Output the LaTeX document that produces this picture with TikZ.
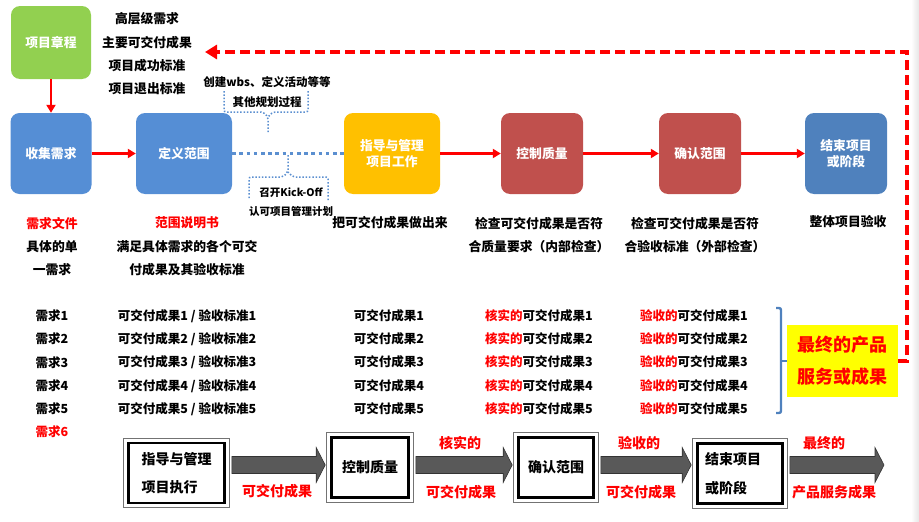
\documentclass[tikz,border=0pt]{standalone}
\usepackage{fontspec}
\setmainfont{Noto Sans CJK SC}
\usetikzlibrary{arrows.meta,calc}
\definecolor{chartergreen}{HTML}{92D050}
\definecolor{stepblue}{HTML}{558ED5}
\definecolor{closeblue}{HTML}{4F81BD}
\definecolor{workyellow}{HTML}{FFC000}
\definecolor{checkred}{HTML}{C0504D}
\definecolor{flowgray}{HTML}{595959}
\definecolor{noteblue}{HTML}{5B8FD0}
\definecolor{hiyellow}{HTML}{FFFF00}
\newcommand\fsb[2]{\fontsize{#1}{#2}\selectfont\bfseries}

\begin{document}
\begin{tikzpicture}[x=1pt,y=-1pt,
  procbox/.style={rounded corners=9pt, minimum width=#1, minimum height=81pt,
    inner sep=2pt, text=white, align=center, font=\fsb{12.8}{15.5}},
  txt/.style={align=center, inner sep=0pt, font=\fsb{12.8}{23.3}},
  redflow/.style={draw=red, line width=2.5pt, -{Triangle[length=8pt,width=9pt]}},
  noteline/.style={draw=noteblue, line width=1.5pt, dash pattern=on 1.5pt off 1.8pt, rounded corners=2pt},
  mainline/.style={draw=noteblue, line width=3.2pt, dash pattern=on 3.6pt off 3.6pt},
  returnline/.style={draw=red, line width=3.5pt, dash pattern=on 10pt off 5pt,
    -{Triangle[length=12pt,width=14pt]}},
  flowbox/.style={draw=black, line width=2.6pt, fill=white, inner sep=0pt,
    minimum height=60pt, align=left, font=\fsb{14}{28.5}},
  flowframe/.style={draw=black!55, line width=1pt},
  blockarrow/.style={fill=flowgray, draw=black!80, line width=0.6pt,
    to path={let \p1=(\tikztostart), \p2=(\tikztotarget) in
      (\x1+6pt,\y1-8.5pt) -- (\x2-14pt,\y1-8.5pt) -- (\x2-14pt,\y1-17.5pt) --
      (\x2-5pt,\y1) -- (\x2-14pt,\y1+17.5pt) -- (\x2-14pt,\y1+8.5pt) --
      (\x1+6pt,\y1+8.5pt) -- cycle}},
  flowlabel/.style={inner sep=0pt, text=red, font=\fsb{14}{16}},
  bracket/.style={draw=closeblue, line width=2.4pt, rounded corners=2pt}
]
\useasboundingbox (0,0) rectangle (919,522);
\shade[left color=white, right color=black!10] (911,0) rectangle (919,522);

% ---- process row ----
\node[procbox=80pt, fill=chartergreen, minimum height=73pt] (charter) at (51,42.5) {项目章程};
\node[procbox=81pt, fill=stepblue] (collect) at (51,153.5) {收集需求};
\node[procbox=96pt, fill=stepblue] (define) at (184,153.5) {定义范围};
\node[procbox=96pt, fill=workyellow] (direct) at (392,153.5) {指导与管理\\项目工作};
\node[procbox=82pt, fill=checkred] (control) at (542,153.5) {控制质量};
\node[procbox=82pt, fill=checkred] (validate) at (700,153.5) {确认范围};
\node[procbox=82pt, fill=closeblue] (close) at (846,153.5) {结束项目\\或阶段};

\draw[redflow] (charter.south) -- (collect.north);
\draw[redflow] (collect.east) -- (define.west);
\draw[mainline] (define.east) -- (direct.west);
\draw[redflow] (direct.east) -- (control.west);
\draw[redflow] (control.east) -- (validate.west);
\draw[redflow] (validate.east) -- (close.west);

% ---- charter outputs ----
\node[txt] (charterout) at (147,54) {高层级需求\\主要可交付成果\\项目成功标准\\项目退出标准};

% ---- planning notes on the dotted link ----
\node[txt, font=\fsb{11.5}{20}] (plannote) at (267,92) {创建wbs、定义活动等等\\其他规划过程};
\draw[noteline] (224,91) -- (224,112) -- (263,112) -- (268,117) -- (268,133);
\draw[noteline] (308,91) -- (308,112) -- (273,112) -- (268,117);
\node[txt, font=\fsb{10.5}{19}] (kicknote) at (291,202.5) {召开Kick-Off\\认可项目管理计划};
\draw[noteline] (249,198) -- (249,177) -- (283,177) -- (288,172) -- (288,154);
\draw[noteline] (328,200) -- (328,177) -- (293,177) -- (288,172);

% ---- step outputs ----
\node[txt] (reqdoc) at (52,246.5) {\textcolor{red}{需求文件}\\具体的单\\一需求};
\node[txt] (scopedoc) at (187,246.5) {\textcolor{red}{范围说明书}\\满足具体需求的各个可交\\付成果及其验收标准};
\node[txt] (makeit) at (390,223) {把可交付成果做出来};
\node[txt] (qcheck) at (539,235) {检查可交付成果是否符\\合质量要求（内部检查）};
\node[txt] (acheck) at (695,235) {检查可交付成果是否符\\合验收标准（外部检查）};
\node[txt] (accept) at (848,222) {整体项目验收};

% ---- item lists ----
\node[txt, font=\fsb{12.5}{23.25}] (reqlist) at (52,374)
  {需求1\\需求2\\需求3\\需求4\\需求5\\\textcolor{red}{需求6}};
\node[txt, font=\fsb{12.5}{23.25}] (dellist) at (187,362.5)
  {可交付成果1 / 验收标准1\\可交付成果2 / 验收标准2\\可交付成果3 / 验收标准3\\可交付成果4 / 验收标准4\\可交付成果5 / 验收标准5};
\node[txt, font=\fsb{12.5}{23.25}] (madelist) at (389,362)
  {可交付成果1\\可交付成果2\\可交付成果3\\可交付成果4\\可交付成果5};
\node[txt, font=\fsb{12.5}{23.25}] (verlist) at (539,362)
  {\textcolor{red}{核实的}可交付成果1\\\textcolor{red}{核实的}可交付成果2\\\textcolor{red}{核实的}可交付成果3\\\textcolor{red}{核实的}可交付成果4\\\textcolor{red}{核实的}可交付成果5};
\node[txt, font=\fsb{12.5}{23.25}] (acclist) at (694,362)
  {\textcolor{red}{验收的}可交付成果1\\\textcolor{red}{验收的}可交付成果2\\\textcolor{red}{验收的}可交付成果3\\\textcolor{red}{验收的}可交付成果4\\\textcolor{red}{验收的}可交付成果5};

\draw[bracket] (776,308) -- (781,308) -- (781,413) -- (776,413);
\draw[bracket, rounded corners=0pt] (781,361) -- (787,361);
\node[fill=hiyellow, minimum width=111pt, minimum height=72pt, inner sep=0pt,
  align=center, text=red, font=\fsb{18}{32}] (final) at (842.5,361) {最终的产品\\服务或成果};
\coordinate (loopend) at (205,52);
\draw[returnline] (final.east) -- ++(9,0) |- (loopend);

% ---- summary flow ----
\node[flowbox, minimum width=96pt] (bdirect) at (176.5,473) {指导与管理\\项目执行};
\node[flowbox, minimum width=77pt, font=\fsb{14}{16}] (bcontrol) at (370,467.5) {控制质量};
\node[flowbox, minimum width=75pt, font=\fsb{14}{16}] (bvalidate) at (556,467.5) {确认范围};
\node[flowbox, minimum width=85pt, text width=70pt, inner xsep=7.5pt] (bclose) at (740,473.5) {结束项目\\或阶段};
\foreach \b in {bdirect,bcontrol,bvalidate,bclose}
  \draw[flowframe] ([shift={(-3.5,-3.5)}]\b.north west) rectangle ([shift={(3.5,3.5)}]\b.south east);

\coordinate (flowend) at (889,465);
\path[blockarrow] (bdirect.east |- 0,465) to (bcontrol.west |- 0,465);
\path[blockarrow] (bcontrol.east |- 0,465) to (bvalidate.west |- 0,465);
\path[blockarrow] (bvalidate.east |- 0,465) to (bclose.west |- 0,465);
\path[blockarrow] (bclose.east |- 0,465) to (flowend);

\node[flowlabel] (l1b) at (277,491) {可交付成果};
\node[flowlabel] (l2a) at (460,443) {核实的};
\node[flowlabel] (l2b) at (461,492) {可交付成果};
\node[flowlabel] (l3a) at (639,443) {验收的};
\node[flowlabel] (l3b) at (641,492) {可交付成果};
\node[flowlabel] (l4a) at (824,443) {最终的};
\node[flowlabel] (l4b) at (834,492) {产品服务成果};
\end{tikzpicture}
\end{document}
